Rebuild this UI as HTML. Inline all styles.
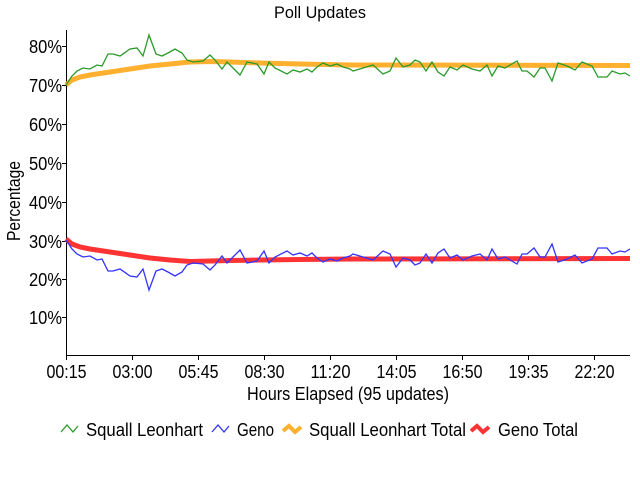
<!DOCTYPE html>
<html><head><meta charset="utf-8"><style>
html,body{margin:0;padding:0;background:#fff;}
svg{display:block;font-family:"Liberation Sans",sans-serif;}
</style></head><body>
<svg width="640" height="480" viewBox="0 0 640 480" xmlns="http://www.w3.org/2000/svg">
<rect width="640" height="480" fill="#fff"/>
<text x="320" y="18" font-size="17" text-anchor="middle" textLength="92" lengthAdjust="spacingAndGlyphs">Poll Updates</text>
<!-- axes -->
<path d="M66.5,30 V355.5 H630" fill="none" stroke="#000" stroke-width="1"/>
<g stroke="#000">
<line x1="62" y1="46.5" x2="66" y2="46.5"/>
<line x1="62" y1="85.5" x2="66" y2="85.5"/>
<line x1="62" y1="124.5" x2="66" y2="124.5"/>
<line x1="62" y1="163.5" x2="66" y2="163.5"/>
<line x1="62" y1="202.5" x2="66" y2="202.5"/>
<line x1="62" y1="241.5" x2="66" y2="241.5"/>
<line x1="62" y1="279.5" x2="66" y2="279.5"/>
<line x1="62" y1="317.5" x2="66" y2="317.5"/>
<line x1="66.5" y1="356" x2="66.5" y2="360"/>
<line x1="132.5" y1="356" x2="132.5" y2="360"/>
<line x1="198.5" y1="356" x2="198.5" y2="360"/>
<line x1="264.5" y1="356" x2="264.5" y2="360"/>
<line x1="330.5" y1="356" x2="330.5" y2="360"/>
<line x1="396.5" y1="356" x2="396.5" y2="360"/>
<line x1="462.5" y1="356" x2="462.5" y2="360"/>
<line x1="528.5" y1="356" x2="528.5" y2="360"/>
<line x1="594.5" y1="356" x2="594.5" y2="360"/>
</g>
<g font-size="18" text-anchor="end">
<text x="62" y="53" textLength="33" lengthAdjust="spacingAndGlyphs">80%</text>
<text x="62" y="92" textLength="33" lengthAdjust="spacingAndGlyphs">70%</text>
<text x="62" y="131" textLength="33" lengthAdjust="spacingAndGlyphs">60%</text>
<text x="62" y="170" textLength="33" lengthAdjust="spacingAndGlyphs">50%</text>
<text x="62" y="209" textLength="33" lengthAdjust="spacingAndGlyphs">40%</text>
<text x="62" y="248" textLength="33" lengthAdjust="spacingAndGlyphs">30%</text>
<text x="62" y="286" textLength="33" lengthAdjust="spacingAndGlyphs">20%</text>
<text x="62" y="324" textLength="33" lengthAdjust="spacingAndGlyphs">10%</text>
</g>
<g font-size="18" text-anchor="middle">
<text x="66.5" y="378" textLength="40" lengthAdjust="spacingAndGlyphs">00:15</text>
<text x="132.5" y="378" textLength="40" lengthAdjust="spacingAndGlyphs">03:00</text>
<text x="198.5" y="378" textLength="40" lengthAdjust="spacingAndGlyphs">05:45</text>
<text x="264.5" y="378" textLength="40" lengthAdjust="spacingAndGlyphs">08:30</text>
<text x="330.5" y="378" textLength="40" lengthAdjust="spacingAndGlyphs">11:20</text>
<text x="396.5" y="378" textLength="40" lengthAdjust="spacingAndGlyphs">14:05</text>
<text x="462.5" y="378" textLength="40" lengthAdjust="spacingAndGlyphs">16:50</text>
<text x="528.5" y="378" textLength="40" lengthAdjust="spacingAndGlyphs">19:35</text>
<text x="594.5" y="378" textLength="40" lengthAdjust="spacingAndGlyphs">22:20</text>
<text x="348" y="400" textLength="202" lengthAdjust="spacingAndGlyphs">Hours Elapsed (95 updates)</text>
</g>
<text transform="translate(20,201) rotate(-90)" font-size="18" text-anchor="middle" textLength="80" lengthAdjust="spacingAndGlyphs">Percentage</text>

<!-- totals -->
<polyline fill="none" stroke="#ffb02e" stroke-width="5" points="66,85 72,80 80,77 90,75 110,72 130,69 150,66 170,64 190,62 210,61.5 230,62 260,63 300,64 350,65 630,65.5"/>
<polyline fill="none" stroke="#ff3333" stroke-width="5" points="66,239 72,244 80,247 90,249 110,252 130,255 150,258 170,260 190,261.5 210,261 230,260.5 260,260 300,259.5 350,259 630,258.5"/>

<!-- Squall -->
<polyline id="g" fill="none" stroke="#2a9a2a" stroke-width="1.3" points="66,85 72,76 77,71 83,68 90,69 97,65 102,66 108,54 113,54 120,56 130,49 137,48 143,56 149,35 156,54 162,56 168,53 175,49 182,53 187,60 193,62 203,61 210,55 215,60 222,69 227,62 233,68 240,75 247,62 257,64 264,74 269,62 275,68 287,74 293,70 300,72 307,69 312,72 317,67 323,63 330,66 337,64 343,67 350,69 353,71 363,68 373,65 383,74 390,71 396,58 403,67 410,65 415,60 420,62 426,71 432,62 438,72 444,76 450,67 457,70 463,65 472,69 480,71 487,65 492,76 498,66 505,68 517,61 522,71 527,71 534,77 540,68 545,68 552,81 558,63 567,66 575,70 582,62 592,66 598,77 607,77 612,71 620,74 625,73 630,76"/>
<!-- Geno (mirror) -->
<g transform="translate(0,325) scale(1,-1)">
<polyline fill="none" stroke="#3333ff" stroke-width="1.3" points="66,85 72,76 77,71 83,68 90,69 97,65 102,66 108,54 113,54 120,56 130,49 137,48 143,56 149,35 156,54 162,56 168,53 175,49 182,53 187,60 193,62 203,61 210,55 215,60 222,69 227,62 233,68 240,75 247,62 257,64 264,74 269,62 275,68 287,74 293,70 300,72 307,69 312,72 317,67 323,63 330,66 337,64 343,67 350,69 353,71 363,68 373,65 383,74 390,71 396,58 403,67 410,65 415,60 420,62 426,71 432,62 438,72 444,76 450,67 457,70 463,65 472,69 480,71 487,65 492,76 498,66 505,68 517,61 522,71 527,71 534,77 540,68 545,68 552,81 558,63 567,66 575,70 582,62 592,66 598,77 607,77 612,71 620,74 625,73 630,76" transform="translate(0,0)"/>
</g>
<g transform="translate(0,0)">
<polyline fill="none" stroke="#ffffff" stroke-width="0" points="0,0"/>
</g>

<!-- legend -->
<polyline fill="none" stroke="#2a9a2a" stroke-width="1.3" points="61,432 67,425 73,432 78,426"/>
<text x="86" y="436" font-size="18" textLength="117" lengthAdjust="spacingAndGlyphs">Squall Leonhart</text>
<polyline fill="none" stroke="#3333ff" stroke-width="1.3" points="212,432 218,425 224,432 229,426"/>
<text x="237" y="436" font-size="18" textLength="37" lengthAdjust="spacingAndGlyphs">Geno</text>
<polyline fill="none" stroke="#ffb02e" stroke-width="4" points="283,431 289,426 295,432 301,427"/>
<text x="309" y="436" font-size="18" textLength="157" lengthAdjust="spacingAndGlyphs">Squall Leonhart Total</text>
<polyline fill="none" stroke="#ff3333" stroke-width="4" points="471,431 477,426 483,432 489,427"/>
<text x="498" y="436" font-size="18" textLength="80" lengthAdjust="spacingAndGlyphs">Geno Total</text>
</svg>
</body></html>
